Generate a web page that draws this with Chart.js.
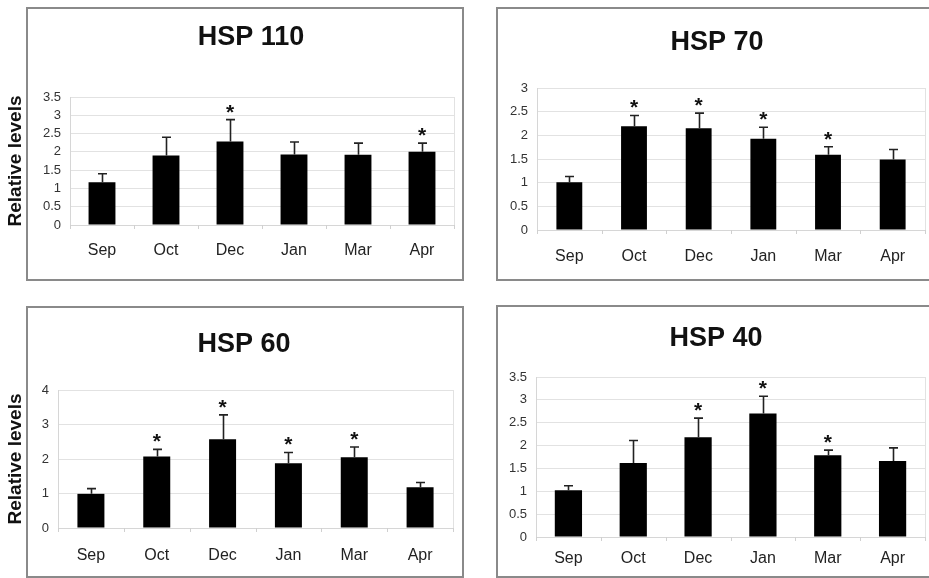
<!DOCTYPE html>
<html>
<head>
<meta charset="utf-8">
<script src="https://cdn.jsdelivr.net/npm/chart.js@4/dist/chart.umd.min.js"></script>
<style>
  html, body { margin: 0; padding: 0; background: #fff; }
  body { width: 929px; height: 578px; position: relative; overflow: hidden; }
  .frame { position: absolute; border: 2px solid #8a8a8a; box-sizing: border-box; }
  .wrap { position: absolute; }
</style>
</head>
<body>
<div class="frame" style="left:26px;top:7px;width:438px;height:274px;"></div>
<div class="frame" style="left:496px;top:7px;width:440px;height:274px;"></div>
<div class="frame" style="left:26px;top:306px;width:438px;height:272px;"></div>
<div class="frame" style="left:496px;top:305px;width:440px;height:273px;"></div>

<div class="wrap" style="left:0;top:0;width:470px;height:290px;"><canvas id="c1"></canvas></div>
<div class="wrap" style="left:470px;top:0;width:459px;height:290px;"><canvas id="c2"></canvas></div>
<div class="wrap" style="left:0;top:290px;width:470px;height:288px;"><canvas id="c3"></canvas></div>
<div class="wrap" style="left:470px;top:290px;width:459px;height:288px;"><canvas id="c4"></canvas></div>

<script>
// ---- data ----
const months = ['Sep', 'Oct', 'Dec', 'Jan', 'Mar', 'Apr'];

const hsp110Means = [1.17, 1.90, 2.28, 1.93, 1.92, 2.00];
const hsp110Errors = [0.23, 0.50, 0.60, 0.34, 0.32, 0.24];
const hsp110Signif = [false, false, true, false, false, true];
const hsp110Ticks = [0, 0.5, 1, 1.5, 2, 2.5, 3, 3.5];

const hsp70Means = [1.01, 2.19, 2.15, 1.93, 1.59, 1.49];
const hsp70Errors = [0.12, 0.23, 0.32, 0.24, 0.17, 0.21];
const hsp70Signif = [false, true, true, true, true, false];
const hsp70Ticks = [0, 0.5, 1, 1.5, 2, 2.5, 3];

const hsp60Means = [0.99, 2.07, 2.57, 1.88, 2.05, 1.18];
const hsp60Errors = [0.15, 0.21, 0.71, 0.31, 0.30, 0.14];
const hsp60Signif = [false, true, true, true, true, false];
const hsp60Ticks = [0, 1, 2, 3, 4];

const hsp40Means = [1.02, 1.62, 2.18, 2.70, 1.79, 1.66];
const hsp40Errors = [0.10, 0.49, 0.42, 0.38, 0.11, 0.29];
const hsp40Signif = [false, false, true, true, true, false];
const hsp40Ticks = [0, 0.5, 1, 1.5, 2, 2.5, 3, 3.5];

const FONT = '"Liberation Sans", Arial, sans-serif';

// ---- plugins ----
const plotFrame = {
  id: 'plotFrame',
  beforeDatasetsDraw(chart) {
    const { ctx, chartArea: a } = chart;
    ctx.save();
    ctx.strokeStyle = '#e2e2e2';
    ctx.lineWidth = 1;
    ctx.beginPath();
    ctx.moveTo(a.right + 0.5, a.top);
    ctx.lineTo(a.right + 0.5, a.bottom);
    ctx.stroke();
    const xs = chart.scales.x;
    ctx.strokeStyle = '#d0d0d0';
    const slot = xs.getPixelForTick(1) - xs.getPixelForTick(0);
    for (let i = 0; i <= xs.ticks.length; i++) {
      const x = xs.getPixelForTick(0) + (i - 0.5) * slot;
      ctx.beginPath();
      ctx.moveTo(Math.round(x) + 0.5, a.bottom);
      ctx.lineTo(Math.round(x) + 0.5, a.bottom + 4);
      ctx.stroke();
    }
    ctx.restore();
  }
};

const panelTitle = {
  id: 'panelTitle',
  afterDraw(chart, args, o) {
    const { ctx } = chart;
    ctx.save();
    ctx.fillStyle = '#111';
    ctx.font = 'bold 27px ' + FONT;
    ctx.textAlign = 'center';
    ctx.textBaseline = 'alphabetic';
    ctx.fillText(o.text, o.x, o.y);
    ctx.restore();
  }
};

const errorStars = {
  id: 'errorStars',
  afterDatasetsDraw(chart) {
    const { ctx } = chart;
    const meta = chart.getDatasetMeta(0);
    const ds = chart.data.datasets[0];
    const ys = chart.scales.y;
    ctx.save();
    meta.data.forEach((bar, i) => {
      const top = ys.getPixelForValue(ds.data[i] + ds.errors[i]);
      const x = Math.round(bar.x) + 0.5;
      ctx.strokeStyle = '#222';
      ctx.lineWidth = 1.6;
      ctx.beginPath();
      ctx.moveTo(x, bar.y);
      ctx.lineTo(x, top);
      ctx.moveTo(x - 4.5, top);
      ctx.lineTo(x + 4.5, top);
      ctx.stroke();
      if (ds.signif[i]) {
        ctx.fillStyle = '#111';
        ctx.font = 'bold 21px ' + FONT;
        ctx.textAlign = 'center';
        ctx.textBaseline = 'alphabetic';
        ctx.fillText('*', bar.x, top - 1);
      }
    });
    ctx.restore();
  }
};

function makeChart(id, title, means, errors, signif, ticks, opt) {
  const maxV = ticks[ticks.length - 1];
  const step = ticks[1] - ticks[0];
  return new Chart(document.getElementById(id), {
    type: 'bar',
    data: {
      labels: months,
      datasets: [{
        data: means,
        errors: errors,
        signif: signif,
        backgroundColor: '#000',
        borderWidth: 0,
        barPercentage: opt.barPct,
        categoryPercentage: 1
      }]
    },
    options: {
      responsive: true,
      maintainAspectRatio: false,
      animation: false,
      events: [],
      layout: { padding: { left: opt.padLeft, right: opt.padRight, top: opt.padTop, bottom: 0 } },
      plugins: {
        legend: { display: false },
        tooltip: { enabled: false },
        title: { display: false },
        panelTitle: { text: title, x: opt.titleX, y: opt.titleY }
      },
      scales: {
        x: {
          grid: { display: false, drawTicks: false },
          border: { display: true, color: '#d6d6d6', width: 1 },
          ticks: {
            color: '#222',
            font: { family: FONT, size: 16 },
            padding: opt.xPad,
            maxRotation: 0,
            autoSkip: false
          },
          afterFit(s) { s.height = opt.xHeight; }
        },
        y: {
          min: 0,
          max: maxV,
          grid: { color: '#e2e2e2', lineWidth: 1, drawTicks: false },
          border: { display: true, color: '#d6d6d6', width: 1 },
          ticks: {
            stepSize: step,
            autoSkip: false,
            color: '#333',
            padding: 9,
            font: { family: FONT, size: 13, lineHeight: 1 },
            callback: (v) => (ticks.includes(v) ? String(v) : '')
          },
          title: {
            display: opt.yTitle,
            text: 'Relative levels',
            color: '#111',
            font: { family: FONT, size: 19, weight: 'bold', lineHeight: 1.2 },
            padding: 0
          },
          afterFit(s) { s.width = opt.yWidth; }
        }
      }
    },
    plugins: [plotFrame, errorStars, panelTitle]
  });
}

makeChart('c1', 'HSP 110', hsp110Means, hsp110Errors, hsp110Signif, hsp110Ticks,
  { barPct: 0.42, padLeft: 4, padRight: 16, padTop: 97, titleX: 251, titleY: 45, xHeight: 65, xPad: 16, yWidth: 66, yTitle: true });
makeChart('c2', 'HSP 70', hsp70Means, hsp70Errors, hsp70Signif, hsp70Ticks,
  { barPct: 0.40, padLeft: 0, padRight: 4, padTop: 88, titleX: 247, titleY: 50, xHeight: 60, xPad: 17, yWidth: 67, yTitle: false });
makeChart('c3', 'HSP 60', hsp60Means, hsp60Errors, hsp60Signif, hsp60Ticks,
  { barPct: 0.41, padLeft: 4, padRight: 17, padTop: 100, titleX: 244, titleY: 62, xHeight: 50, xPad: 18, yWidth: 54, yTitle: true });
makeChart('c4', 'HSP 40', hsp40Means, hsp40Errors, hsp40Signif, hsp40Ticks,
  { barPct: 0.42, padLeft: 0, padRight: 4, padTop: 87, titleX: 246, titleY: 56, xHeight: 41, xPad: 12, yWidth: 66, yTitle: false });
</script>
</body>
</html>
